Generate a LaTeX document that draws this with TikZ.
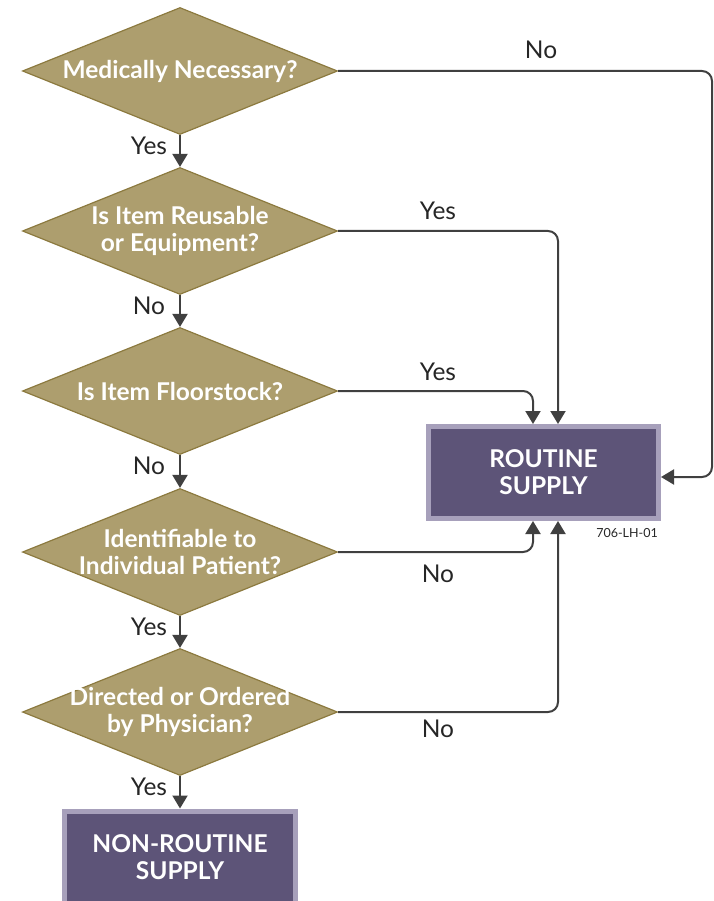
\documentclass[tikz,border=0pt]{standalone}
\usepackage{fontspec}
\setmainfont{Lato}
\usetikzlibrary{shapes.geometric,arrows.meta,calc}
\definecolor{tan}{HTML}{AD9E6E}
\definecolor{tanedge}{HTML}{8C7A3F}
\definecolor{plum}{HTML}{5D5478}
\definecolor{plumedge}{HTML}{A7A0BB}
\definecolor{ink}{HTML}{404040}
\tikzset{
  dia/.style={diamond, fill=tan, draw=tanedge, line width=1.2pt, minimum width=315, minimum height=127, inner sep=0pt},
  dtext/.style={text=white, font=\fontsize{24.5}{27}\selectfont\bfseries, align=center},
  supply/.style={rectangle, fill=plum, draw=plumedge, line width=5pt, minimum width=230, minimum height=92, text=white, font=\fontsize{24.5}{27}\selectfont\bfseries, align=center},
  conn/.style={draw=ink, line width=2pt, rounded corners=10pt, -{Triangle[length=13pt,width=15pt]}},
  lbl/.style={text=black!85, font=\fontsize{24.5}{27}\selectfont},
}
\begin{document}
\begin{tikzpicture}[x=1pt,y=-1pt]
\useasboundingbox (0,0) rectangle (713,901);
\clip (0,0) rectangle (713,901);
% diamonds
\node[dia] (d1) at (180,71) {};
\node[dia] (d2) at (180,231) {};
\node[dia] (d3) at (180,391) {};
\node[dia] (d4) at (180,552) {};
\node[dia] (d5) at (180,712) {};
\node[dtext] (t1) at (d1) {Medically Necessary?};
\node[dtext] (t2) at (d2) {Is Item Reusable\\or Equipment?};
\node[dtext] (t3) at (d3) {Is Item Floorstock?};
\node[dtext] (t4) at (d4) {Identifiable to\\Individual Patient?};
\node[dtext] (t5) at (d5) {Directed or Ordered\\by Physician?};
% boxes
\node[supply] (rs) at (543.5,472.5) {ROUTINE\\SUPPLY};
\node[supply, minimum width=231] (nrs) at (180,857) {NON-ROUTINE\\SUPPLY};
\node[font=\fontsize{12.5}{15}\selectfont, text=black!85] (code) at (627,533) {706-LH-01};
% vertical flow
\draw[conn] (d1.south) -- (d2.north);
\draw[conn] (d2.south) -- (d3.north);
\draw[conn] (d3.south) -- (d4.north);
\draw[conn] (d4.south) -- (d5.north);
\draw[conn] (d5.south) -- (nrs.north);
% connectors to routine supply
\coordinate (c1) at ($(rs.east)+(0,4.5)$);
\coordinate (c1a) at (712,71);
\draw[conn] (d1.east) -- (c1a) -- (c1a |- c1) -- (c1);
\coordinate (c2) at ($(rs.north)+(14.5,0)$);
\coordinate (c3) at ($(rs.north)+(-10.5,0)$);
\coordinate (c4) at ($(rs.south)+(-10.5,0)$);
\coordinate (c5) at ($(rs.south)+(14.5,0)$);
\draw[conn] (d2.east) -| (c2);
\draw[conn] (d3.east) -| (c3);
\draw[conn] (d4.east) -| (c4);
\draw[conn] (d5.east) -| (c5);
% labels
\node[lbl] (l1) at (541,50) {No};
\node[lbl] (l2) at (438,211) {Yes};
\node[lbl] (l3) at (438,372) {Yes};
\node[lbl] (l4) at (438,574) {No};
\node[lbl] (l5) at (438,729) {No};
\node[lbl] (v1) at (149,146) {Yes};
\node[lbl] (v2) at (149,306) {No};
\node[lbl] (v3) at (149,466) {No};
\node[lbl] (v4) at (149,627) {Yes};
\node[lbl] (v5) at (149,787) {Yes};
\end{tikzpicture}
\end{document}
